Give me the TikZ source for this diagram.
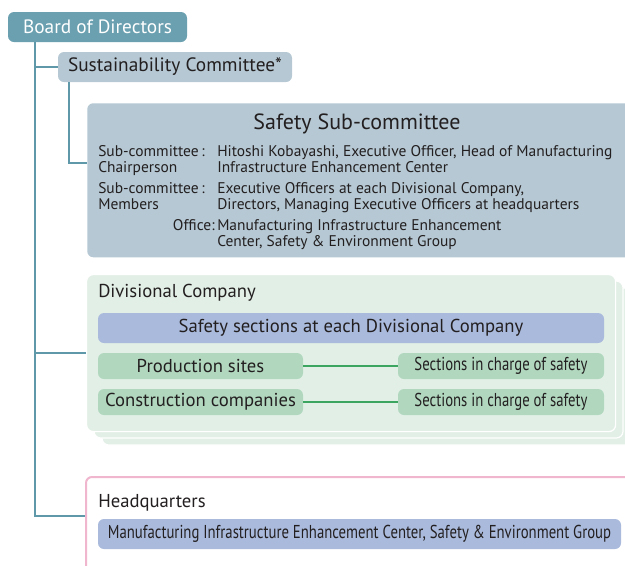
\documentclass[tikz,border=0pt]{standalone}
\usepackage{fontspec}
\setmainfont{PT Sans}
\newfontfamily\condfont[FakeStretch=0.79]{PT Sans}
\usetikzlibrary{positioning, calc}
\definecolor{boardcol}{RGB}{106, 160, 176}
\definecolor{linecol}{RGB}{95, 152, 168}
\definecolor{committeecol}{RGB}{181, 200, 211}
\definecolor{divcol}{RGB}{226, 239, 230}
\definecolor{sectcol}{RGB}{169, 186, 220}
\definecolor{sitecol}{RGB}{177, 216, 191}
\definecolor{greenline}{RGB}{60, 165, 95}
\definecolor{hqcol}{RGB}{240, 182, 206}
\definecolor{textcol}{RGB}{35, 31, 32}

\newcommand{\labelfont}{\fontsize{14}{16}\selectfont}
\newcommand{\headfont}{\fontsize{14.5}{17}\selectfont}
\newcommand{\titlefont}{\fontsize{16.5}{19}\selectfont}
\newcommand{\bodyfont}{\fontsize{11.6}{11.8}\selectfont}

\begin{document}
\begin{tikzpicture}[x=0.75pt, y=-0.75pt, text=textcol, font=\labelfont,
  boxsize/.style 2 args={minimum width=#1*0.75pt, minimum height=#2*0.75pt},
  box/.style={rectangle, rounded corners=4.5pt, inner sep=0pt, align=center},
  board/.style={box, fill=boardcol, text=white, font=\headfont},
  committee/.style={box, fill=committeecol},
  sect/.style={box, fill=sectcol},
  site/.style={box, fill=sitecol},
  divlayer/.style={fill=divcol, draw=white, line width=0.9pt, rounded corners=5pt},
  link/.style={draw=linecol, line width=1.1pt},
  glink/.style={draw=greenline, line width=1.1pt},
  rowtext/.style={inner sep=0pt, align=left, anchor=north west, font=\bodyfont}]
  \clip (0,0) rectangle (625,565);

  % ---- Board and committee ----
  \node[board, boxsize={179}{30}] (board) at (97.5,27) {Board of Directors};
  \node[committee, boxsize={234}{30}, font=\headfont] (sust) at (175,67) {Sustainability Committee*};

  % ---- Safety Sub-committee ----
  \node[committee, boxsize={560}{154}, anchor=north west] (safety) at (87,103) {};
  \node[font=\titlefont] (ssctitle) at (357,124) {Safety Sub-committee};
  \node[rowtext] (chair) at (98,145) {\makebox[89.25pt][l]{Sub-committee\,:}Hitoshi Kobayashi, Executive Officer, Head of Manufacturing\\
    \makebox[89.25pt][l]{Chairperson}Infrastructure Enhancement Center};
  \node[rowtext] (members) at (98,182) {\makebox[89.25pt][l]{Sub-committee\,:}Executive Officers at each Divisional Company,\\
    \makebox[89.25pt][l]{Members}Directors, Managing Executive Officers at headquarters};
  \node[rowtext] (office) at (98,219) {\makebox[89.25pt][r]{Office:\,}Manufacturing Infrastructure Enhancement\\
    \makebox[89.25pt][l]{}Center, Safety \& Environment Group};

  % ---- Divisional Company ----
  \draw[divlayer] (102,288) rectangle (631,445);
  \draw[divlayer] (94,281) rectangle (623,438);
  \node[divlayer, inner sep=0pt, boxsize={529}{157}, anchor=north west] (div) at (86,274) {};
  \node[anchor=west, inner sep=0pt] (divlabel) at (98,293) {Divisional Company};
  \node[sect, boxsize={506}{30}] (ssect) at (351,328) {Safety sections at each Divisional Company};
  \node[site, boxsize={205}{26}] (prod) at (200.5,366) {Production sites};
  \node[site, boxsize={206}{26}] (sec1) at (501,366) {\condfont Sections in charge of safety};
  \node[site, boxsize={205}{26}] (cons) at (200.5,402) {Construction companies};
  \node[site, boxsize={206}{26}] (sec2) at (501,402) {\condfont Sections in charge of safety};
  \draw[glink] (prod) -- (sec1);
  \draw[glink] (cons) -- (sec2);

  % ---- Headquarters ----
  \node[box, draw=hqcol, line width=1.5pt, fill=white, boxsize={560}{140}, anchor=north west] (hq) at (85,476) {};
  \node[anchor=west, inner sep=0pt] (hqlabel) at (98,503) {Headquarters};
  \node[sect, boxsize={523}{30}] (hqsect) at (359.5,534) {\condfont Manufacturing Infrastructure Enhancement Center, Safety \& Environment Group};

  % ---- Tree lines ----
  \coordinate (trunk) at (35,0);
  \coordinate (sustdrop) at (69,0);
  \coordinate (hqin) at (85,516);
  \coordinate (chairin) at (87,163);
  \draw[link] (board.south -| trunk) |- (hqin);
  \draw[link] (trunk |- sust.west) -- (sust.west);
  \draw[link] (trunk |- div.west) -- (div.west);
  \draw[link] (sust.south -| sustdrop) |- (chairin);
\end{tikzpicture}
\end{document}
